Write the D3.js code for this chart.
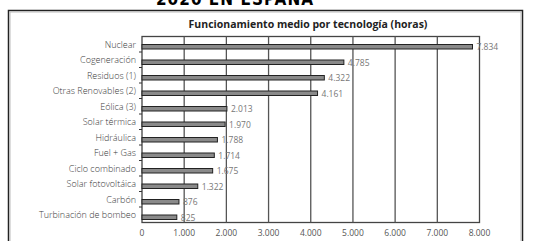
<!DOCTYPE html>
<html lang="es">
<head>
<meta charset="utf-8">
<script src="https://d3js.org/d3.v7.min.js"></script>
<style>
body { margin: 0; background: #fff; }
.cat { font: 300 9px "Open Sans", sans-serif; fill: #3a3a3a; }
.val { font: 8.5px "Open Sans", sans-serif; fill: #777; }
.tick-x { font: 8.5px "Open Sans", sans-serif; fill: #555; }
</style>
</head>
<body>
<svg id="chart" width="533" height="241"></svg>
<script>
var categories = ["Nuclear", "Cogeneración", "Residuos (1)", "Otras Renovables (2)", "Eólica (3)",
  "Solar térmica", "Hidráulica", "Fuel + Gas", "Ciclo combinado", "Solar fotovoltáica",
  "Carbón", "Turbinación de bombeo"];
var hours = [7834, 4785, 4322, 4161, 2013, 1970, 1788, 1714, 1675, 1322, 876, 825];
var xTicks = [0, 1000, 2000, 3000, 4000, 5000, 6000, 7000, 8000];

var svg = d3.select("#chart");
var fmt = d3.formatLocale({decimal: ",", thousands: ".", grouping: [3], currency: ["", "€"]}).format(",d");

// outer frame + headline cut off at top
svg.append("rect").attr("x", 8.5).attr("y", 10.5).attr("width", 514).attr("height", 260)
  .attr("fill", "none").attr("stroke", "#222").attr("stroke-width", 1.5);
svg.append("rect").attr("x", 10).attr("y", 12).attr("width", 511).attr("height", 258)
  .attr("fill", "none").attr("stroke", "#bbb").attr("stroke-width", 1);
svg.append("text").attr("x", 235).attr("y", 4.5).attr("text-anchor", "middle")
  .style("font", "900 17px 'DejaVu Sans Condensed', 'DejaVu Sans', sans-serif").style("letter-spacing", "1px")
  .text("2020 EN ESPAÑA");

svg.append("text").attr("x", 308).attr("y", 28).attr("text-anchor", "middle")
  .style("font", "bold 10.5px 'Open Sans', sans-serif").attr("fill", "#222")
  .text("Funcionamiento medio por tecnología (horas)");

var plotL = 142, plotR = 479.5, plotT = 36.5, plotB = 222.5;
var x = d3.scaleLinear().domain([0, 8000]).range([plotL, plotR]);
var y = d3.scaleBand().domain(categories).range([plotT, plotB]);

// plot border
svg.append("rect").attr("x", plotL).attr("y", plotT).attr("width", plotR - plotL).attr("height", plotB - plotT)
  .attr("fill", "none").attr("stroke", "#444").attr("stroke-width", 1.3);

// gridlines
svg.selectAll(".grid").data(xTicks.slice(1, -1)).enter().append("line")
  .attr("x1", function(d) { return x(d); }).attr("x2", function(d) { return x(d); })
  .attr("y1", plotT).attr("y2", plotB)
  .attr("stroke", "#555").attr("stroke-width", 1.3);

// left ticks at band boundaries
svg.selectAll(".ytick").data(categories.slice(1)).enter().append("line")
  .attr("x1", plotL - 3).attr("x2", plotL)
  .attr("y1", function(d) { return y(d); }).attr("y2", function(d) { return y(d); })
  .attr("stroke", "#333").attr("stroke-width", 1);

// bars
svg.selectAll(".bar").data(hours).enter().append("rect")
  .attr("x", plotL)
  .attr("y", function(d, i) { return y(categories[i]) + 8; })
  .attr("width", function(d) { return x(d) - plotL; })
  .attr("height", 4.5)
  .attr("fill", "#8a8a8a").attr("stroke", "#222").attr("stroke-width", 1);

svg.selectAll(".val").data(hours).enter().append("text")
  .attr("class", "val")
  .attr("x", function(d) { return x(d) + 4; })
  .attr("y", function(d, i) { return y(categories[i]) + 13.5; })
  .text(function(d) { return fmt(d); });

svg.selectAll(".cat").data(categories).enter().append("text")
  .attr("class", "cat")
  .attr("x", plotL - 6).attr("text-anchor", "end")
  .attr("y", function(d) { return y(d) + 11; })
  .text(function(d) { return d; });

svg.selectAll(".tick-x").data(xTicks).enter().append("text")
  .attr("class", "tick-x")
  .attr("x", function(d) { return x(d); }).attr("y", 236).attr("text-anchor", "middle")
  .text(function(d) { return fmt(d); });
</script>
</body>
</html>
